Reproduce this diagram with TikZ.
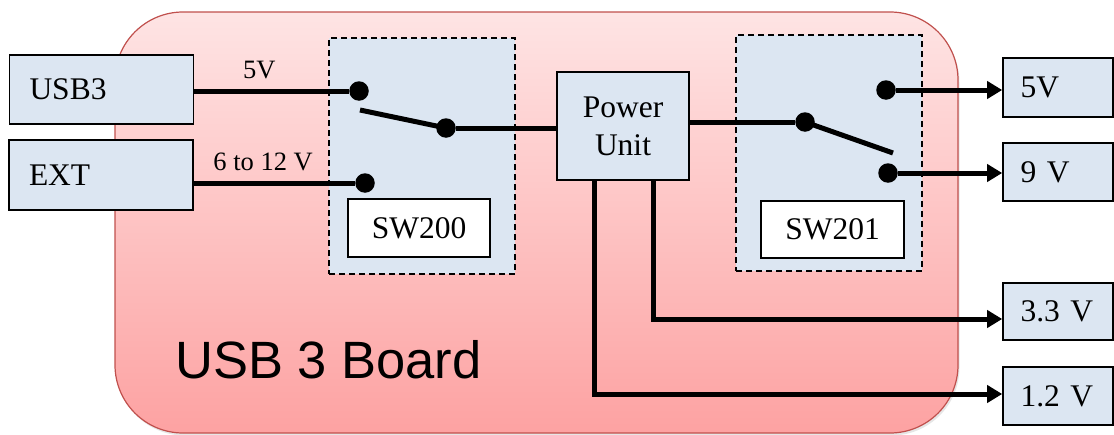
\documentclass[tikz,border=0pt]{standalone}
\usepackage{fontspec}
\setmainfont{Liberation Serif}
\newfontfamily\boardfont{Liberation Sans}
\usetikzlibrary{arrows.meta,shadows}

\definecolor{boardtop}{HTML}{FEE4E4}
\definecolor{boardbot}{HTML}{FDA2A2}
\definecolor{boardedge}{HTML}{C0504D}
\definecolor{boxblue}{HTML}{DCE6F2}

\tikzset{
  board/.style={draw=boardedge, line width=1.2pt, rounded corners=68pt,
    top color=boardtop, bottom color=boardbot,
    drop shadow={opacity=0.2, shadow xshift=1.5pt, shadow yshift=-2.5pt}},
  blk/.style={draw, line width=1.6pt, fill=boxblue, inner xsep=20pt,
    align=left, font=\fontsize{31.5}{38}\selectfont},
  outblk/.style={blk, inner xsep=17.5pt, text width=75pt},
  swbox/.style={draw, line width=1.5pt, dash pattern=on 6pt off 4pt, fill=boxblue},
  tag/.style={draw, line width=1.6pt, fill=white, font=\fontsize{31.5}{36}\selectfont},
  dot/.style={circle, fill, inner sep=0pt, minimum size=19.5pt},
  wire/.style={line width=5pt},
  lbl/.style={above=10pt, inner sep=0pt, font=\fontsize{26.5}{30}\selectfont},
  title/.style={anchor=base west, inner sep=0pt, font=\boardfont\fontsize{52.5}{60}\selectfont}
}

\begin{document}
\begin{tikzpicture}[x=1pt, y=-1pt, >={Triangle[length=15pt,width=17pt]}]
  \useasboundingbox (0,0) rectangle (1114,434);

  % Platine
  \draw[board] (115,12) rectangle (958,433);
  \node[title] (ttl) at (175,378) {USB 3 Board};

  % Eingaenge
  \node[blk, text width=144pt, minimum height=69pt] (usb) at (101.5,89.5) {USB3};
  \node[blk, text width=144pt, minimum height=70pt] (ext) at (101,175) {EXT};

  % SW200
  \node[swbox, minimum width=186pt, minimum height=236pt] (sw0) at (422,156) {};
  \node[tag, minimum width=142pt, minimum height=58pt] (tag0) at (419,228) {SW200};
  \node[dot] (in1) at (359,91) {};
  \node[dot] (in2) at (365,183) {};
  \node[dot] (com0) at (446,128) {};
  \coordinate (lev0) at (360,110);

  % Power Unit
  \node[blk, align=center, text width=92pt, minimum height=108pt] (pu) at (623,126) {Power\\Unit};

  % SW201
  \node[swbox, minimum width=186pt, minimum height=236pt] (sw1) at (829,153) {};
  \node[tag, minimum width=143pt, minimum height=57pt] (tag1) at (832.5,229.5) {SW201};
  \node[dot] (com1) at (805,122) {};
  \node[dot] (out1) at (886,90) {};
  \node[dot] (out2) at (888,173) {};
  \coordinate (lev1) at (893,153);

  % Ausgaenge
  \node[outblk, minimum height=59pt] (v5) at (1058,87.5) {5V};
  \node[outblk, minimum height=58pt] (v9) at (1058,172) {9 V};
  \node[outblk, minimum height=57pt] (v33) at (1058,311.5) {3.3 V};
  \node[outblk, minimum height=58pt] (v12) at (1058,396) {1.2 V};

  % Leitungen
  \draw[wire] (usb.east |- in1) -- (in1) node[lbl, pos=0.42] {5V};
  \draw[wire] (ext.east |- in2) -- (in2) node[lbl, pos=0.43] {6 to 12 V};
  \draw[wire] (lev0) -- (com0.center);
  \draw[wire] (com0) -- (com0 -| pu.west);
  \draw[wire] (pu.east |- com1) -- (com1);
  \draw[wire] (com1.center) -- (lev1);
  \draw[wire,->] (out1) -- (out1 -| v5.west);
  \draw[wire,->] (out2) -- (out2 -| v9.west);
  \draw[wire,->] ([xshift=30pt]pu.south) |- ([yshift=-7.5pt]v33.west);
  \draw[wire,->] ([xshift=-29pt]pu.south) |- ([yshift=2pt]v12.west);
\end{tikzpicture}
\end{document}
